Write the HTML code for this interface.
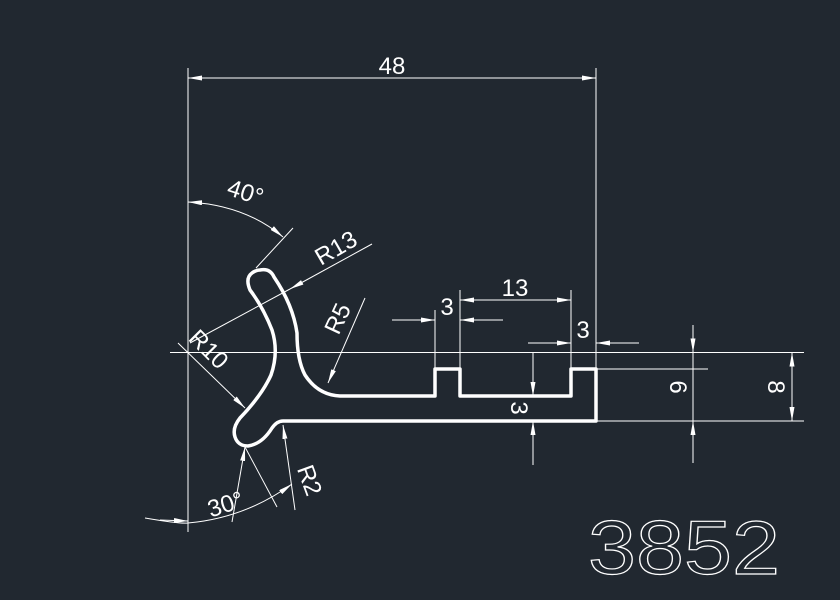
<!DOCTYPE html>
<html><head><meta charset="utf-8"><style>html,body{margin:0;padding:0;background:#212830;}svg{display:block}</style></head>
<body>
<svg width="840" height="600" viewBox="0 0 840 600" xmlns="http://www.w3.org/2000/svg" font-family="Liberation Sans, sans-serif">
<rect width="840" height="600" fill="#212830"/>
<defs>
<marker id="a" viewBox="0 0 14 5" refX="14" refY="2.5" markerWidth="14" markerHeight="5" orient="auto-start-reverse" markerUnits="userSpaceOnUse"><path d="M0,0 L14,2.5 L0,5z" fill="#fff"/></marker>
</defs>
<g stroke="#fff" stroke-width="1" fill="none">
<line x1="188" y1="68" x2="188" y2="532"/>
<line x1="596" y1="68" x2="596" y2="369"/>
<line x1="170" y1="352.5" x2="804" y2="352.5"/>
<line x1="596" y1="369" x2="708" y2="369"/>
<line x1="596" y1="421" x2="804" y2="421"/>
<line x1="435" y1="310" x2="435" y2="369"/>
<line x1="460" y1="290" x2="460" y2="369"/>
<line x1="571" y1="290" x2="571" y2="369"/>
<line x1="188" y1="78" x2="596" y2="78" marker-start="url(#a)" marker-end="url(#a)"/>
<line x1="460" y1="300" x2="571" y2="300" marker-start="url(#a)" marker-end="url(#a)"/>
<line x1="392" y1="320" x2="435" y2="320" marker-end="url(#a)"/>
<line x1="503" y1="320" x2="460" y2="320" marker-end="url(#a)"/>
<line x1="528" y1="343" x2="571" y2="343" marker-end="url(#a)"/>
<line x1="639" y1="343" x2="596" y2="343" marker-end="url(#a)"/>
<line x1="533" y1="353" x2="533" y2="396" marker-end="url(#a)"/>
<line x1="533" y1="465" x2="533" y2="421" marker-end="url(#a)"/>
<line x1="693" y1="325" x2="693" y2="352.5" marker-end="url(#a)"/>
<line x1="693" y1="352.5" x2="693" y2="421"/>
<line x1="693" y1="463" x2="693" y2="421" marker-end="url(#a)"/>
<line x1="792" y1="387" x2="792" y2="352.5" marker-end="url(#a)"/>
<line x1="792" y1="387" x2="792" y2="421" marker-end="url(#a)"/>
<path d="M188,202 Q245,205 283,237" marker-start="url(#a)" marker-end="url(#a)"/>
<line x1="256" y1="268" x2="293" y2="228"/>
<line x1="190" y1="343" x2="290" y2="289" />
<line x1="372" y1="244" x2="290" y2="289" marker-end="url(#a)"/>
<line x1="365" y1="298" x2="328" y2="383" marker-end="url(#a)"/>
<line x1="178" y1="343" x2="245" y2="408" marker-end="url(#a)"/>
<path d="M145,518 Q180,524 188,523 Q245,518 292,484" marker-end="url(#a)"/>
<line x1="160" y1="520" x2="188" y2="521" marker-end="url(#a)"/>
<line x1="245" y1="447" x2="277" y2="507"/>
<line x1="232" y1="522" x2="245" y2="447" marker-end="url(#a)"/>
<line x1="295" y1="510" x2="283" y2="425" marker-end="url(#a)"/>
</g>
<path d="M260,270 Q270,268 274,277 Q293,305 297,333 Q297,360 305,375 Q318,395 340,396 L435,396 L435,369 L460,369 L460,396 L571,396 L571,369 L596,369 L596,421 L283,421 Q277,421 272,428 Q262,444 248,446 Q238,446 235,437 Q232,428 240,418 Q262,395 271,375 Q279,352 272,330 Q263,307 250,290 Q245,278 252,273 Q256,270 260,270 Z" fill="none" stroke="#fff" stroke-width="3.5" stroke-linejoin="round"/>
<g fill="#fff" font-size="24">
<text x="392" y="74" text-anchor="middle">48</text>
<text x="515" y="296" text-anchor="middle">13</text>
<text x="447" y="315" text-anchor="middle">3</text>
<text x="583" y="338" text-anchor="middle">3</text>
<text transform="translate(511,408) rotate(90)" text-anchor="middle">3</text>
<text transform="translate(670,387) rotate(90)" text-anchor="middle">6</text>
<text transform="translate(768,387) rotate(90)" text-anchor="middle">8</text>
<text transform="translate(243,200) rotate(18)" text-anchor="middle">40°</text>
<text transform="translate(340,255) rotate(-30)" text-anchor="middle">R13</text>
<text transform="translate(345,322) rotate(-65)" text-anchor="middle">R5</text>
<text transform="translate(203,355) rotate(45)" text-anchor="middle">R10</text>
<text transform="translate(302,483) rotate(70)" text-anchor="middle">R2</text>
<text transform="translate(228,512) rotate(-18)" text-anchor="middle">30°</text>
</g>
<text x="588" y="574" font-size="76" textLength="192" lengthAdjust="spacingAndGlyphs" fill="none" stroke="#fff" stroke-width="1.2">3852</text>
</svg>
</body></html>
